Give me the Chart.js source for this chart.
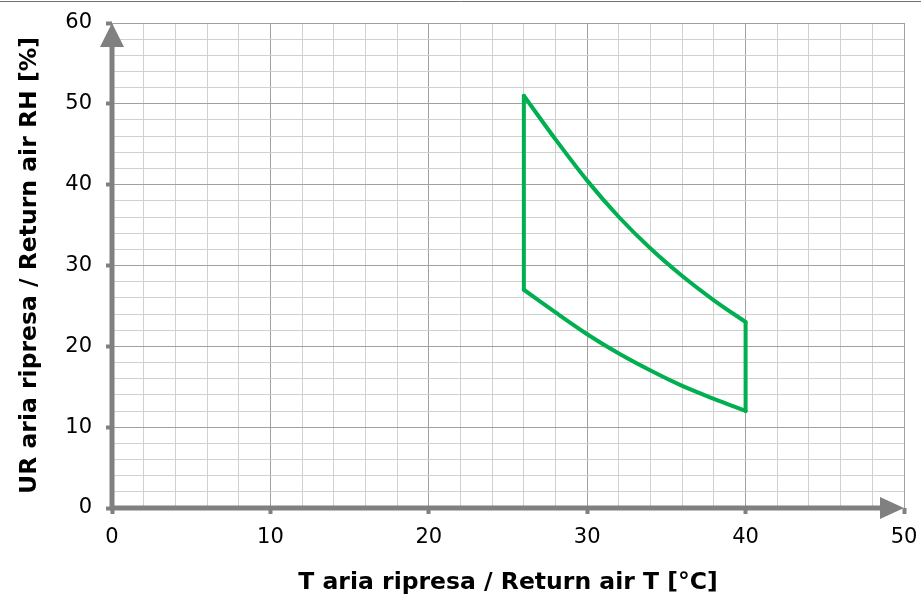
<!DOCTYPE html>
<html>
<head>
<meta charset="utf-8">
<script src="https://cdn.jsdelivr.net/npm/chart.js@4/dist/chart.umd.min.js"></script>
<style>
  html, body { margin: 0; padding: 0; background: #fff; }
  #wrap { width: 921px; height: 601px; position: relative; }
</style>
</head>
<body>
<div id="wrap"><canvas id="envelope" width="921" height="601"></canvas></div>
<script>
// Operating envelope (return air T vs RH)
const upperT  = [26, 28, 30, 32, 34, 36, 38, 40];
const upperRH = [51, 45.6, 40.5, 36.0, 32.1, 28.7, 25.7, 23];
const lowerT  = [26, 28, 30, 32, 34, 36, 38, 40];
const lowerRH = [27, 24.2, 21.5, 19.1, 17.0, 15.1, 13.5, 12];

const xMin = 0, xMax = 50, xStep = 2, xMajor = 10;
const yMin = 0, yMax = 60, yStep = 2, yMajor = 10;

const xTitle = 'T aria ripresa / Return air T [°C]';
const yTitle = 'UR aria ripresa / Return air RH [%]';

const toPts = (xs, ys) => xs.map((x, i) => ({ x: x, y: ys[i] }));
const last = upperT.length - 1;
const leftEdge = [{ x: lowerT[0], y: lowerRH[0] }, { x: upperT[0], y: upperRH[0] }];
const rightEdge = [{ x: upperT[last], y: upperRH[last] }, { x: lowerT[last], y: lowerRH[last] }];

const isMajor = (v, m) => Math.abs(v % m) < 1e-6;

// axis lines with arrow heads, drawn over grid
const axisArrows = {
    id: 'axisArrows',
    afterDraw(chart) {
        const ctx = chart.ctx;
        const xs = chart.scales.x, ys = chart.scales.y;
        const x0 = xs.getPixelForValue(xMin), x1 = xs.getPixelForValue(xMax);
        const y0 = ys.getPixelForValue(yMin), y1 = ys.getPixelForValue(yMax);
        ctx.save();
        ctx.strokeStyle = '#808080';
        ctx.fillStyle = '#808080';
        ctx.lineWidth = 5;
        ctx.beginPath();
        ctx.moveTo(x0, y0 + 2.5);
        ctx.lineTo(x0, y1 + 20);
        ctx.moveTo(x0 - 2.5, y0);
        ctx.lineTo(x1 - 20, y0);
        ctx.stroke();
        // arrow up
        ctx.beginPath();
        ctx.moveTo(x0, y1);
        ctx.lineTo(x0 - 12, y1 + 24);
        ctx.lineTo(x0 + 12, y1 + 24);
        ctx.closePath();
        ctx.fill();
        // arrow right
        ctx.beginPath();
        ctx.moveTo(x1, y0);
        ctx.lineTo(x1 - 24, y0 - 11);
        ctx.lineTo(x1 - 24, y0 + 11);
        ctx.closePath();
        ctx.fill();
        // thin frame line at top of picture
        ctx.lineWidth = 1;
        ctx.strokeStyle = '#707070';
        ctx.beginPath();
        ctx.moveTo(0, 1.5);
        ctx.lineTo(chart.width, 1.5);
        ctx.stroke();
        ctx.restore();
    }
};

const gridColor = c => isMajor(c.tick.value, 10) ? '#a0a0a0' : '#d0d0d0';
const tickCol = c => isMajor(c.tick.value, 10) ? '#808080' : 'rgba(0,0,0,0)';

const lineStyle = {
    showLine: true,
    borderColor: '#00b050',
    borderWidth: 4,
    pointRadius: 0,
    fill: false,
    borderCapStyle: 'round',
    borderJoinStyle: 'round'
};

new Chart(document.getElementById('envelope'), {
    type: 'scatter',
    data: {
        datasets: [
            Object.assign({ data: toPts(upperT, upperRH), tension: 0.3 }, lineStyle),
            Object.assign({ data: toPts(lowerT, lowerRH), tension: 0.3 }, lineStyle),
            Object.assign({ data: leftEdge }, lineStyle),
            Object.assign({ data: rightEdge }, lineStyle)
        ]
    },
    options: {
        responsive: false,
        animation: false,
        plugins: { legend: { display: false }, tooltip: { enabled: false } },
        layout: { padding: { top: 23, right: 17, left: 0, bottom: 0 } },
        scales: {
            x: {
                type: 'linear',
                min: xMin, max: xMax,
                afterFit: s => { s.height = 93; s.paddingLeft = 0; s.paddingRight = 0; },
                border: { display: false },
                grid: { color: gridColor, tickColor: tickCol, tickLength: 6, tickWidth: 4, lineWidth: 1 },
                ticks: {
                    stepSize: xStep,
                    autoSkip: false,
                    maxRotation: 0,
                    padding: 11,
                    color: '#000',
                    font: { family: 'DejaVu Sans', size: 21 },
                    callback: v => isMajor(v, xMajor) ? v : ''
                },
                title: {
                    display: true,
                    text: xTitle,
                    color: '#000',
                    font: { family: 'DejaVu Sans', size: 23.5, weight: 'bold' },
                    padding: { top: 0, bottom: 4 }
                }
            },
            y: {
                type: 'linear',
                min: yMin, max: yMax,
                afterFit: s => { s.width = 112; s.paddingTop = 0; s.paddingBottom = 0; },
                border: { display: false },
                grid: { color: gridColor, tickColor: tickCol, tickLength: 6, tickWidth: 4, lineWidth: 1 },
                ticks: {
                    stepSize: yStep,
                    autoSkip: false,
                    padding: 14,
                    color: '#000',
                    font: { family: 'DejaVu Sans', size: 21 },
                    callback: v => isMajor(v, yMajor) ? v : ''
                },
                title: {
                    display: true,
                    text: yTitle,
                    color: '#000',
                    font: { family: 'DejaVu Sans', size: 23.5, weight: 'bold' },
                    padding: { top: 16, bottom: 0 }
                }
            }
        }
    },
    plugins: [axisArrows]
});
</script>
</body>
</html>
